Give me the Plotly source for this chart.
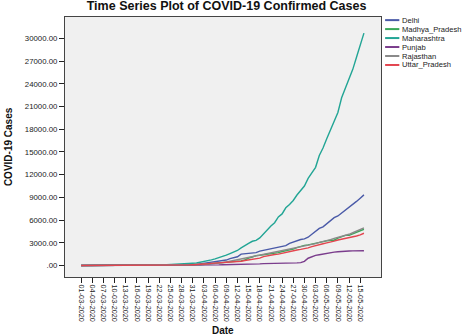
import pandas as pd
import plotly.graph_objects as go

dates = pd.date_range("2020-03-01", "2020-05-16", freq="D")

delhi = [0, 1, 1, 1, 2, 3, 3, 3, 4, 4, 5, 6, 7, 7, 7, 7, 8, 10, 12, 17, 26, 29, 30, 31, 31, 36, 39, 39, 49, 72, 97,
         152, 219, 386, 445, 503, 523, 576, 669, 720, 903, 1069, 1154, 1510, 1561, 1578, 1640, 1707, 1893, 2003, 2081,
         2156, 2248, 2376, 2514, 2625, 2918, 3108, 3314, 3439, 3515,
         3738, 4122, 4549, 4898, 5104, 5532, 5980, 6318, 6542, 6923, 7233, 7639, 7998, 8470, 8895, 9333]
madhya = [0, 0, 0, 0, 0, 0, 0, 0, 0, 0, 0, 0, 0, 0, 0, 0, 0, 0, 0, 4, 4, 6, 7, 14, 20, 20, 30, 30, 39, 47, 66,
          99, 104, 154, 165, 256, 256, 290, 313, 411, 451, 532, 564, 604, 730, 987, 1120, 1308, 1355, 1407, 1485,
          1540, 1587, 1695, 1846, 1945, 2096, 2168, 2368, 2561, 2660,
          2719, 2846, 2942, 3049, 3138, 3252, 3341, 3341, 3614, 3785, 3986, 3986, 4173, 4426, 4595, 4789]
maharashtra = [0, 0, 0, 0, 0, 0, 0, 0, 2, 5, 11, 14, 17, 26, 32, 39, 41, 45, 48, 52, 64, 74, 97, 107, 122, 130, 153,
               186, 203, 220, 302,
               335, 423, 490, 635, 748, 868, 1018, 1135, 1364, 1574, 1761, 1985, 2334, 2687, 2919, 3202, 3323, 3651,
               4203, 4666, 5218, 5652, 6427, 6817, 7628, 8068, 8590, 9318, 9915, 10498,
               11506, 12296, 12974, 14541, 15525, 16758, 17974, 19063, 20228, 22171, 23401, 24427, 25922, 27524,
               29100, 30706]
punjab = [0, 0, 0, 0, 0, 0, 0, 0, 1, 1, 1, 1, 1, 1, 1, 1, 1, 1, 2, 2, 13, 21, 21, 29, 29, 33, 38, 38, 38, 38, 41,
          46, 48, 53, 57, 68, 76, 79, 101, 106, 132, 151, 167, 176, 186, 186, 197, 202, 219, 244, 245,
          251, 277, 298, 313, 322, 330, 331, 342, 375, 542,
          960, 1180, 1330, 1420, 1526, 1644, 1731, 1762, 1823, 1877, 1914, 1924, 1932, 1935, 1946, 1946]
rajasthan = [0, 0, 1, 1, 1, 1, 1, 1, 1, 1, 3, 3, 3, 3, 4, 4, 4, 7, 17, 17, 23, 28, 32, 32, 36, 38, 41, 54, 57, 74, 93,
             120, 133, 179, 200, 274, 288, 343, 381, 463, 561, 700, 804, 873, 1005, 1076, 1131, 1229, 1351, 1478, 1576,
             1659, 1735, 1868, 1964, 2083, 2185, 2262, 2364, 2438, 2584,
             2666, 2772, 2886, 3061, 3158, 3317, 3427, 3579, 3708, 3814, 3988, 4126, 4328, 4534, 4747, 4960]
uttar = [0, 0, 0, 1, 1, 1, 1, 1, 1, 1, 9, 11, 11, 12, 13, 13, 15, 16, 19, 23, 24, 27, 33, 33, 37, 41, 42, 55, 65, 82,
         103, 113, 172, 174, 227, 278, 305, 332, 361, 410, 433, 452, 483, 558, 660, 735, 805, 849, 974, 1176, 1294,
         1337, 1449, 1510, 1621, 1793, 1868, 1955, 2053, 2134, 2211,
         2328, 2487, 2645, 2766, 2880, 2998, 3071, 3214, 3373, 3467, 3573, 3664, 3729, 3902, 4057, 4259]

series_names = ["Delhi", "Madhya_Pradesh", "Maharashtra", "Punjab", "Rajasthan", "Uttar_Pradesh"]
series_values = [delhi, madhya, maharashtra, punjab, rajasthan, uttar]
series_colors = ["#4a5aa8", "#3aa858", "#22a595", "#7a3c8c", "#8a8a8a", "#e3454f"]

y_ticks = [0, 3000, 6000, 9000, 12000, 15000, 18000, 21000, 24000, 27000, 30000]
y_labels = [".00" if v == 0 else f"{v}.00" for v in y_ticks]
x_ticks = list(dates[::3])
x_labels = [d.strftime("%d-%m-%Y") for d in x_ticks]

FONT = "Liberation Sans, Arial, sans-serif"

fig = go.Figure()
for name, vals, col in zip(series_names, series_values, series_colors):
    fig.add_trace(go.Scatter(x=dates, y=vals, mode="lines", name=name,
                             line=dict(color=col, width=1.4), showlegend=False))

# compact legend drawn with paper-coordinate shapes/annotations
leg_top = 0.988
leg_step = 0.0345
for i, (name, col) in enumerate(zip(series_names, series_colors)):
    yy = leg_top - i * leg_step
    fig.add_shape(type="line", xref="paper", yref="paper", x0=1.013, x1=1.058, y0=yy, y1=yy,
                  line=dict(color=col, width=2))
    fig.add_annotation(xref="paper", yref="paper", x=1.063, y=yy, text=name, showarrow=False,
                       xanchor="left", yanchor="middle", borderpad=0,
                       font=dict(size=7.6, color="#222", family=FONT))

fig.add_annotation(xref="paper", yref="paper", x=-0.18, y=0.5, text="<b>COVID-19 Cases</b>",
                   textangle=-90, showarrow=False, xanchor="center", yanchor="middle",
                   font=dict(size=10, color="#111", family=FONT))
fig.add_annotation(xref="paper", yref="paper", x=0.5, y=-0.205, text="<b>Date</b>",
                   showarrow=False, xanchor="center", yanchor="middle",
                   font=dict(size=10, color="#111", family=FONT))

fig.update_layout(
    width=474, height=336,
    margin=dict(l=65, r=93, t=17, b=59),
    paper_bgcolor="white", plot_bgcolor="#f0f0f0",
    title=dict(text="<b>Time Series Plot of COVID-19 Confirmed Cases</b>", x=0.478, xanchor="center",
               y=0.982, yanchor="middle", font=dict(size=12.5, color="#111", family=FONT)),
    font=dict(family=FONT, size=7.5, color="#222"),
    showlegend=False,
)
fig.update_xaxes(range=["2020-02-25 16:00", "2020-05-20 14:00"], tickvals=x_ticks, ticktext=x_labels,
                 tickangle=90, ticks="outside", ticklen=5, tickcolor="#222", showgrid=False, zeroline=False,
                 showline=True, linecolor="#444", linewidth=1.2, mirror=True,
                 tickfont=dict(size=7.3, color="#222"))
fig.update_yaxes(range=[-1520, 32840], tickvals=y_ticks, ticktext=y_labels, ticks="outside", ticklen=5,
                 tickcolor="#222", showgrid=False, zeroline=False, showline=True, linecolor="#444",
                 linewidth=1.2, mirror=True, tickfont=dict(size=7.8, color="#222"))

fig.write_html("out.html")
